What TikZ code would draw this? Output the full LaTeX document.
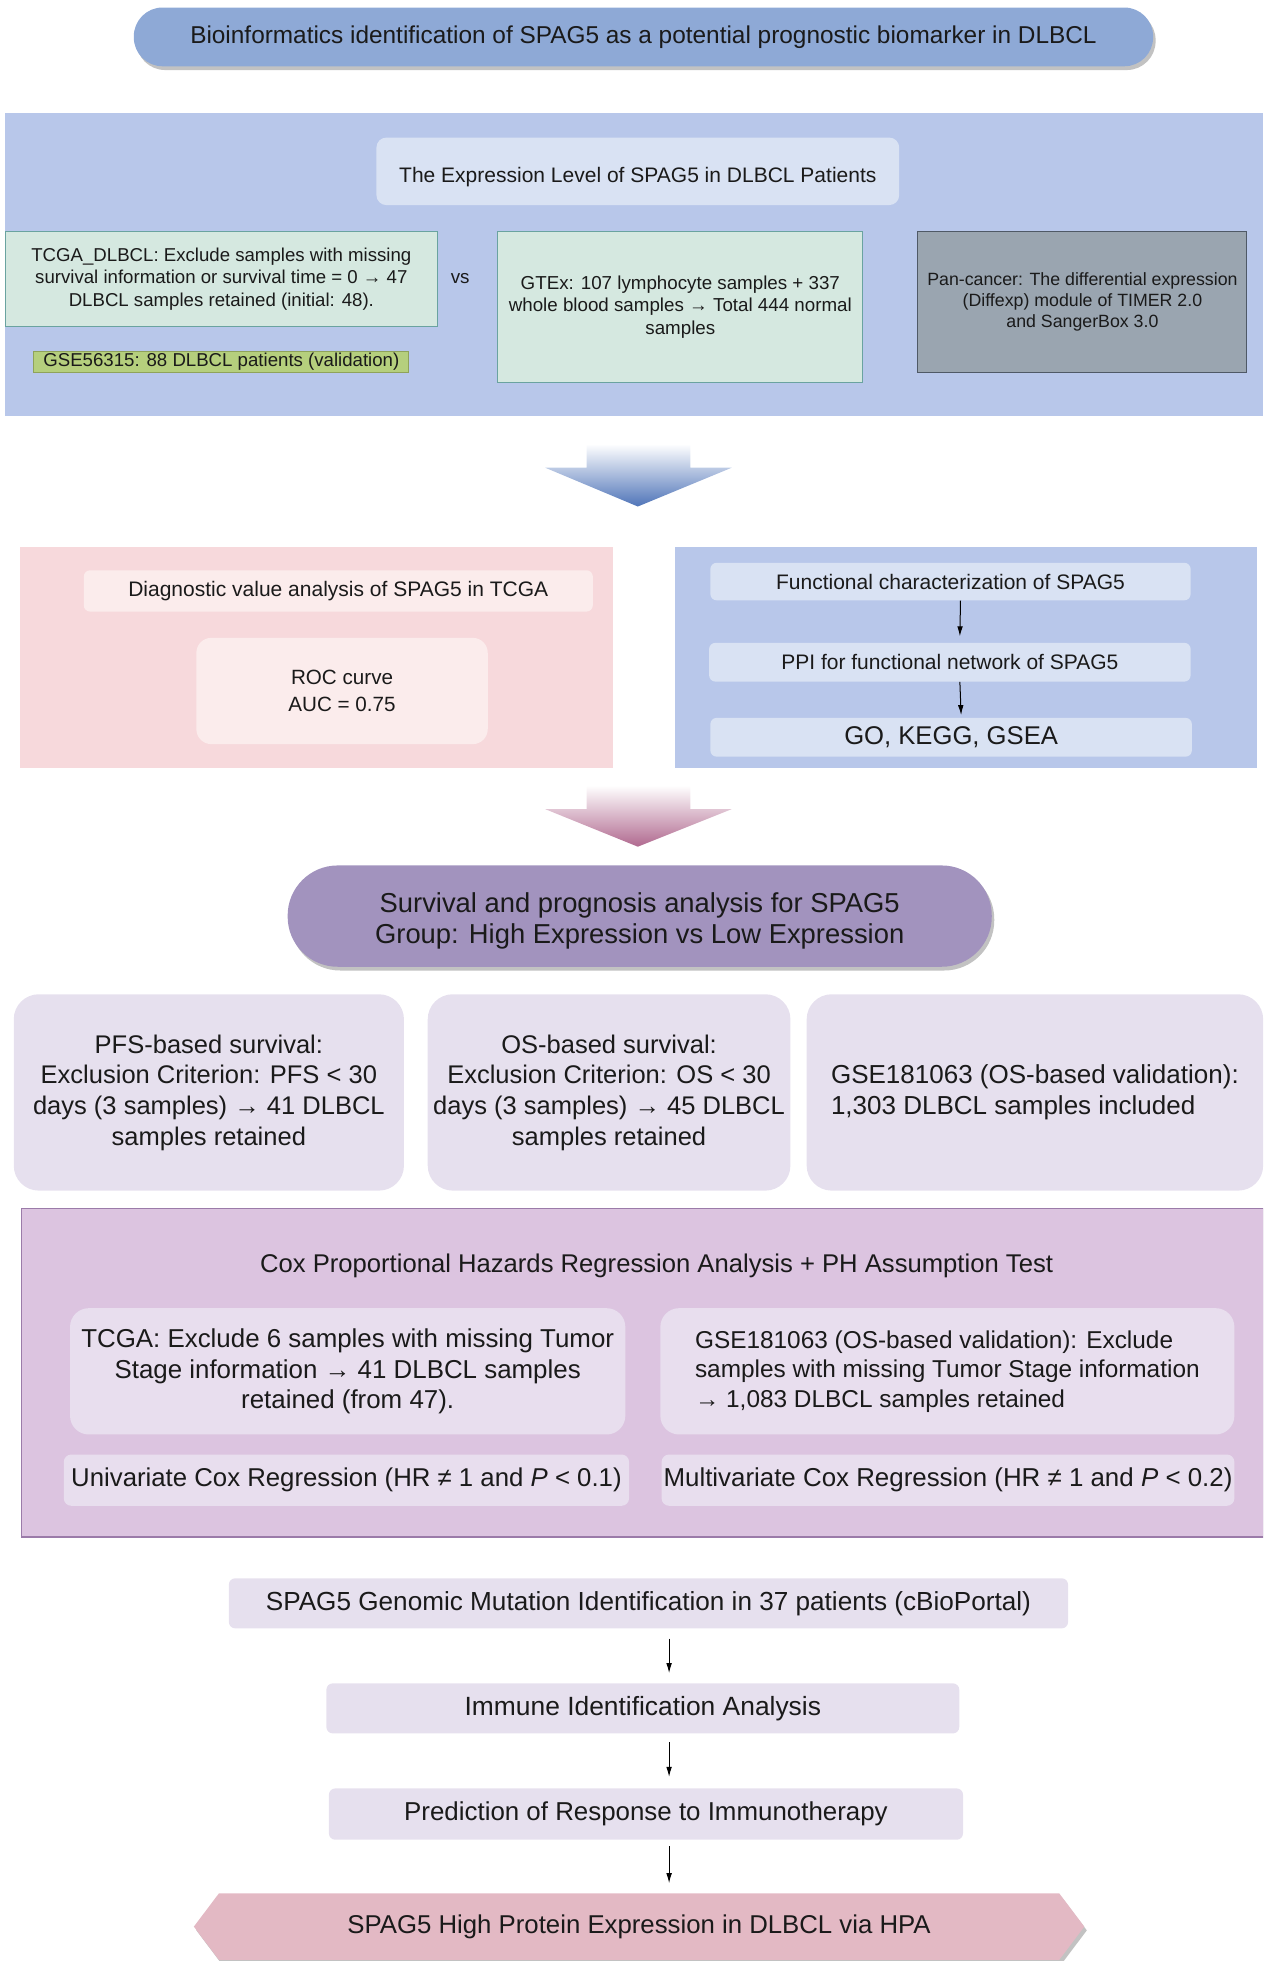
\documentclass[tikz,border=0pt]{standalone}
\usepackage{fontspec}
\setmainfont{Liberation Sans}
\usetikzlibrary{shapes.symbols,shadows,arrows.meta,calc}
\definecolor{txt}{HTML}{1A1A1A}
\definecolor{titleblue}{HTML}{8EA9D6}
\definecolor{panelblue}{HTML}{B8C7EA}
\definecolor{lightblue}{HTML}{D9E2F3}
\definecolor{mint}{HTML}{D5E8E0}
\definecolor{mintborder}{HTML}{6AA3A0}
\definecolor{olive}{HTML}{B5CF7D}
\definecolor{oliveborder}{HTML}{8FA35A}
\definecolor{slate}{HTML}{9AA5B0}
\definecolor{slateborder}{HTML}{4F5966}
\definecolor{pinkpanel}{HTML}{F7D9DC}
\definecolor{pinkbox}{HTML}{FBECEC}
\definecolor{purplepill}{HTML}{A293BE}
\definecolor{lavender}{HTML}{E6E0EE}
\definecolor{coxpanel}{HTML}{DCC4E0}
\definecolor{coxborder}{HTML}{9B7BA9}
\definecolor{coxbox}{HTML}{E8DEEE}
\definecolor{hexpink}{HTML}{E3B9C4}
\definecolor{arrblue}{HTML}{4F74B8}
\definecolor{arrmauve}{HTML}{B0698F}
\newcommand\fsz[2]{\fontsize{#1}{#2}\selectfont}
\begin{document}
\begin{tikzpicture}[x=1pt,y=-1pt,
  box/.style={inner sep=0pt, align=center, text=txt},
  tarrow/.style={-{Latex[length=8pt,width=4.5pt]}, line width=0.8pt, black},
  shad/.style={drop shadow={shadow xshift=2pt,shadow yshift=-3pt,fill=black!40,opacity=0.6}}]
\useasboundingbox (0,0) rectangle (1010,1568);
\clip (0,0) rectangle (1010,1568);

% title
\node[box, fill=titleblue, rounded corners=23pt, shad, minimum width=815pt, minimum height=47pt, font=\fsz{19.5}{23}] (title) at (514.5,29.5) {Bioinformatics identification of SPAG5 as a potential prognostic biomarker in DLBCL};

% panel 1
\node[box, fill=panelblue, minimum width=1006pt, minimum height=243pt] (p1) at (507,211.5) {};
\node[box, fill=lightblue, rounded corners=8pt, minimum width=418pt, minimum height=54pt, text height=21pt, font=\fsz{16.8}{20}] (expr) at (510,137) {The Expression Level of SPAG5 in DLBCL Patients};
\node[box, fill=mint, draw=mintborder, line width=0.8pt, minimum width=346pt, minimum height=76pt, font=\fsz{14.9}{18}] (tcga) at (177,223) {TCGA\_DLBCL: Exclude samples with missing\\survival information or survival time = 0 → 47\\DLBCL samples retained (initial: 48).};
\node[box, font=\fsz{15}{18}] (vs) at (368,223) {vs};
\node[box, fill=olive, draw=oliveborder, line width=0.8pt, minimum width=300pt, minimum height=17pt, font=\fsz{14.9}{17}] (gse1) at (177,289.5) {GSE56315: 88 DLBCL patients (validation)};
\node[box, fill=mint, draw=mintborder, line width=0.8pt, minimum width=292pt, minimum height=120pt, font=\fsz{15}{18}] (gtex) at (544,245.5) {GTEx: 107 lymphocyte samples + 337\\whole blood samples → Total 444 normal\\samples};
\node[box, fill=slate, draw=slateborder, line width=0.8pt, minimum width=263pt, minimum height=113pt, font=\fsz{14.2}{16.5}] (pan) at (865.5,241.5) {Pan-cancer: The differential expression\\(Diffexp) module of TIMER 2.0\\and SangerBox 3.0};

% big arrow 1
\shade[top color=white, bottom color=arrblue] (469,355) -- (552,355) -- (552,374) -- (585,374) -- (510,405) -- (436,374) -- (469,374) -- cycle;

% pink panel
\node[box, fill=pinkpanel, minimum width=474pt, minimum height=177pt] (p2) at (253,525.5) {};
\node[box, fill=pinkbox, rounded corners=5pt, minimum width=407pt, minimum height=33pt, font=\fsz{16.8}{19}] (diag) at (270.5,472.5) {Diagnostic value analysis of SPAG5 in TCGA};
\node[box, fill=pinkbox, rounded corners=12pt, minimum width=233pt, minimum height=85pt, font=\fsz{16.5}{21}] (roc) at (273.5,552.5) {ROC curve\\AUC = 0.75};

% blue panel 2
\node[box, fill=panelblue, minimum width=465pt, minimum height=177pt] (p3) at (772.5,525.5) {};
\node[box, fill=lightblue, rounded corners=5pt, minimum width=384pt, minimum height=30pt, font=\fsz{16.8}{19}] (func) at (760,465) {Functional characterization of SPAG5};
\node[box, fill=lightblue, rounded corners=5pt, minimum width=385pt, minimum height=31pt, font=\fsz{16.8}{19}] (ppi) at (759.5,529.5) {PPI for functional network of SPAG5};
\node[box, fill=lightblue, rounded corners=5pt, minimum width=385pt, minimum height=31pt, font=\fsz{20.5}{24}] (go) at (760.5,589.5) {GO, KEGG, GSEA};
\draw[tarrow] ([xshift=8pt]func.south) -- ([xshift=8pt,yshift=5pt]ppi.north);
\draw[tarrow] ([xshift=8pt]ppi.south) -- ([xshift=8pt,yshift=2pt]go.north);

% big arrow 2
\shade[top color=white, bottom color=arrmauve] (469,628) -- (552,628) -- (552,647) -- (585,647) -- (510,677) -- (436,647) -- (469,647) -- cycle;

% survival pill
\node[box, fill=purplepill, rounded corners=40pt, shad, minimum width=563pt, minimum height=81pt, text height=48.5pt, font=\fsz{21.9}{24.5}] (surv) at (511.5,732.5) {Survival and prognosis analysis for SPAG5\\Group: High Expression vs Low Expression};

% three boxes
\node[box, fill=lavender, rounded corners=20pt, minimum width=312pt, minimum height=157pt, font=\fsz{20.4}{24.5}] (pfs) at (167,873.5) {PFS-based survival:\\Exclusion Criterion: PFS < 30\\days (3 samples) → 41 DLBCL\\samples retained};
\node[box, fill=lavender, rounded corners=20pt, minimum width=290pt, minimum height=157pt, font=\fsz{20.4}{24.5}] (os) at (487,873.5) {OS-based survival:\\Exclusion Criterion: OS < 30\\days (3 samples) → 45 DLBCL\\samples retained};
\node[box, align=left, fill=lavender, rounded corners=20pt, minimum width=365pt, minimum height=157pt, font=\fsz{20.8}{25}] (gse2) at (827.5,873.5) {GSE181063 (OS-based validation):\\1,303 DLBCL samples included};

% cox panel
\node[box, fill=coxpanel, draw=coxborder, line width=1pt, minimum width=993pt, minimum height=263pt] (cox) at (513.5,1097.5) {};
\node[box, font=\fsz{20.5}{23}] (coxt) at (525,1012) {Cox Proportional Hazards Regression Analysis + PH Assumption Test};
\node[box, fill=coxbox, rounded corners=15pt, minimum width=444pt, minimum height=101pt, font=\fsz{20.7}{24.5}] (tcga2) at (278,1096.5) {TCGA: Exclude 6 samples with missing Tumor\\Stage information → 41 DLBCL samples\\retained (from 47).};
\node[box, align=left, fill=coxbox, rounded corners=15pt, minimum width=459pt, minimum height=101pt, font=\fsz{19.5}{23.5}] (gse3) at (757.5,1096.5) {GSE181063 (OS-based validation): Exclude\\samples with missing Tumor Stage information\\→ 1,083 DLBCL samples retained};
\node[box, fill=coxbox, rounded corners=6pt, minimum width=452pt, minimum height=41pt, font=\fsz{20.6}{23}] (uni) at (277,1183.5) {Univariate Cox Regression (HR ≠ 1 and \textit{P} < 0.1)};
\node[box, fill=coxbox, rounded corners=6pt, minimum width=458pt, minimum height=41pt, font=\fsz{20.7}{23}] (multi) at (758,1183.5) {Multivariate Cox Regression (HR ≠ 1 and \textit{P} < 0.2)};

% bottom chain
\coordinate (ax) at (535,0);
\node[box, fill=lavender, rounded corners=5pt, minimum width=671pt, minimum height=40pt, font=\fsz{20.9}{23}] (geno) at (518.5,1282) {SPAG5 Genomic Mutation Identification in 37 patients (cBioPortal)};
\node[box, fill=lavender, rounded corners=5pt, minimum width=506pt, minimum height=40pt, font=\fsz{21.1}{23}] (immune) at (514,1366) {Immune Identification Analysis};
\node[box, fill=lavender, rounded corners=5pt, minimum width=507pt, minimum height=41pt, font=\fsz{20.7}{23}] (pred) at (516.5,1450.5) {Prediction of Response to Immunotherapy};
\node[box, signal, signal to=west and east, signal pointer angle=106, fill=hexpink, shad, minimum width=712pt, minimum height=53pt, font=\fsz{20.6}{23}] (hpa) at (511,1540.5) {SPAG5 High Protein Expression in DLBCL via HPA};
\draw[tarrow] ($(geno.south -| ax)+(0,8)$) -- ($(immune.north -| ax)-(0,8)$);
\draw[tarrow] ($(immune.south -| ax)+(0,7)$) -- ($(pred.north -| ax)-(0,9)$);
\draw[tarrow] ($(pred.south -| ax)+(0,5)$) -- ($(hpa.north -| ax)-(0,8)$);
\end{tikzpicture}
\end{document}
